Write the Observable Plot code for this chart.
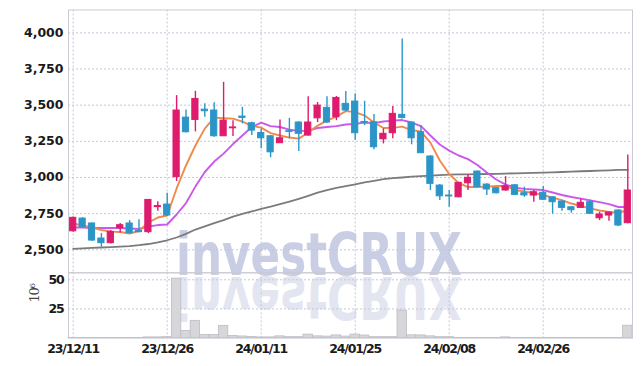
<!DOCTYPE html>
<html><head><meta charset="utf-8">
<script src="https://cdn.jsdelivr.net/npm/d3@7"></script>
<script src="https://cdn.jsdelivr.net/npm/@observablehq/plot@0.6"></script>
<style>
body{margin:0;background:#fff;}
#wrap{position:relative;width:642px;height:366px;overflow:hidden;background:#fff;}
#wrap > svg{position:absolute;left:0;}
</style></head><body><div id="wrap"></div>
<script>
// ---- data ----
const tickIndex = [0, 10, 20, 30, 40, 50];
const tickLabels = ["23/12/11", "23/12/26", "24/01/11", "24/01/25", "24/02/08", "24/02/26"];
const priceTicks = [2500, 2750, 3000, 3250, 3500, 3750, 4000];
const volumeTicks = [25, 50];

const openP  = [2628,2716,2682,2578,2546,2649,2682,2630,2622,2795,2813,3002,3414,3398,3469,3463,3285,3340,3421,3375,
                3308,3285,3237,3320,3380,3290,3409,3481,3416,3509,3525,3384,3382,3264,3306,3433,3380,3313,3145,2944,
                2875,2863,2960,3041,2951,2926,2910,2946,2891,2875,2894,2863,2834,2794,2790,2829,2718,2737,2772,2684];
const closeP = [2721,2656,2564,2546,2624,2670,2615,2622,2845,2802,2737,3463,3313,3543,3458,3285,3393,3346,3412,3324,
                3271,3174,3271,3315,3302,3380,3497,3380,3550,3463,3306,3379,3209,3302,3440,3412,3271,3168,2956,2870,
                2869,2963,2998,2933,2917,2891,2939,2880,2876,2898,2846,2829,2790,2774,2825,2749,2744,2758,2668,2910];
const highP  = [2726,2721,2686,2613,2633,2682,2702,2707,2848,2832,2891,3566,3467,3596,3509,3516,3658,3393,3485,3382,
                3336,3290,3398,3409,3385,3559,3518,3559,3560,3594,3578,3527,3435,3336,3490,3958,3384,3359,3150,2951,
                2910,2966,3020,3045,2956,2930,3006,2950,2933,2910,2937,2866,2836,2799,2852,2845,2760,2762,2776,3156];
const lowP   = [2622,2650,2558,2518,2540,2617,2610,2618,2612,2767,2730,2972,3308,3315,3416,3278,3285,3283,3371,3290,
                3198,3136,3237,3267,3179,3285,3380,3375,3393,3455,3255,3359,3191,3232,3267,3405,3226,3165,2910,2841,
                2794,2860,2910,2930,2875,2885,2905,2876,2863,2829,2842,2747,2767,2753,2786,2745,2702,2698,2661,2680];
const volumeM = [0.1,0.1,0.1,0.1,0.1,0.1,0.1,0.1,0.6,0.6,0.8,51,6.2,14.8,2.6,2.6,10.5,1.8,1.4,0.9,
                 0.6,0.6,1.5,0.8,0.8,3,1.5,1.3,2.3,1.3,3,2.2,0.8,0.8,0.8,23.5,2.4,2.3,1.5,0.8,
                 0.8,0.2,0.2,0.2,0.2,0.2,0.6,0.2,0.2,0.2,0.2,0.2,0.2,0.2,0.2,0.2,0.2,0.2,0.2,10.6];
const ma5  = [2682,2668,2654,2637,2626,2623,2613,2630,2689,2723,2737,2924,3083,3221,3338,3414,3410,3407,3386,3357,
              3345,3307,3290,3276,3269,3311,3359,3393,3421,3459,3452,3428,3380,3342,3343,3352,3328,3317,3241,3117,
              3024,2962,2934,2934,2937,2941,2941,2913,2903,2892,2879,2861,2844,2820,2803,2786,2772,2761,2758,2772];
const ma20 = [2654,2654,2651,2651,2651,2651,2647,2644,2661,2671,2675,2744,2823,2937,3038,3110,3165,3231,3290,3349,
              3380,3355,3349,3331,3321,3324,3342,3349,3355,3366,3371,3380,3376,3387,3393,3397,3380,3355,3290,3228,
              3186,3152,3127,3086,3034,2986,2951,2930,2921,2917,2913,2896,2879,2865,2854,2841,2830,2816,2796,2796];
const ma120 = [2507,2510,2513,2516,2519,2522,2526,2532,2540,2552,2566,2585,2610,2640,2662,2684,2705,2730,2748,2765,
               2783,2798,2815,2833,2852,2873,2895,2912,2928,2940,2952,2966,2977,2988,2995,3000,3006,3010,3013,3017,
               3020,3021,3022,3023,3024,3025,3027,3029,3030,3032,3034,3036,3038,3040,3043,3045,3047,3049,3052,3053];
const watermark = "investCRUX";
const volumeUnit = "10⁶";

// ---- build ----
const n = openP.length;
const candles = d3.range(n).map(i => ({i, o: openP[i], c: closeP[i], h: highP[i], l: lowP[i], v: volumeM[i], up: closeP[i] >= openP[i]}));
const RED = "#de1b6c", BLUE = "#2c95c8";
const col = d => d.up ? RED : BLUE;
const FONT = "'DejaVu Sans',sans-serif";
const GRID = "#c3c7dc";
const FRAME = "#c9cad4";
const xDomain = [-0.5, n - 0.5];
const series = arr => arr.map((v, i) => ({i, v}));

const wrap = document.getElementById("wrap");

// watermark layer (behind); the reflection reuses the same text element
const wm = d3.select(wrap).append("svg").attr("width", 642).attr("height", 366).style("top", "0px");
wm.append("text").attr("id", "wmtext").text(watermark)
  .attr("x", 176).attr("y", 275).attr("textLength", 286).attr("lengthAdjust", "spacingAndGlyphs")
  .attr("font-family", "'DejaVu Sans',sans-serif").attr("font-weight", "bold").attr("font-size", 58)
  .attr("fill", "#c9cee4");
wm.append("use").attr("href", "#wmtext").attr("transform", "translate(0,552) scale(1,-1)").attr("opacity", 0.5);

const axisStyle = {background: "transparent", fontFamily: FONT, fontSize: "12.5px", fontWeight: "bold", color: "#1a1a1a", overflow: "visible"};

const price = Plot.plot({
  width: 642, height: 273, marginLeft: 68, marginRight: 10, marginTop: 9.5, marginBottom: 0.7,
  style: axisStyle,
  x: {domain: xDomain, axis: null},
  y: {domain: [2341, 4158], ticks: priceTicks, tickFormat: d3.format(","), tickSize: 0, tickPadding: 5, label: null},
  marks: [
    Plot.ruleY(priceTicks, {stroke: GRID, strokeDasharray: "2,2"}),
    Plot.ruleX(tickIndex, {stroke: GRID, strokeDasharray: "2,2"}),
    Plot.line(series(ma120), {x: "i", y: "v", stroke: "#7b7b7b", strokeWidth: 1.8}),
    Plot.line(series(ma20), {x: "i", y: "v", stroke: "#cb58ea", strokeWidth: 1.9}),
    Plot.line(series(ma5), {x: "i", y: "v", stroke: "#ef8a4f", strokeWidth: 1.9}),
    Plot.ruleX(candles, {x: "i", y1: "l", y2: "h", stroke: col, strokeWidth: 1.4}),
    Plot.rect(candles, {x1: d => d.i - 0.33, x2: d => d.i + 0.33, y1: "o", y2: "c", fill: col, stroke: col, strokeWidth: 1}),
    Plot.frame({stroke: FRAME})
  ]
});
price.style.top = "0px";
wrap.appendChild(price);

const vol = Plot.plot({
  width: 642, height: 94, marginLeft: 68, marginRight: 10, marginTop: 0.3, marginBottom: 28.4,
  style: {...axisStyle, letterSpacing: "-1.2px"},
  x: {domain: xDomain, ticks: tickIndex, tickFormat: d => tickLabels[tickIndex.indexOf(d)], tickSize: 0, tickPadding: 6, label: null},
  y: {domain: [0, 56], ticks: volumeTicks, tickSize: 0, tickPadding: 5, label: null},
  marks: [
    Plot.ruleY(volumeTicks, {stroke: GRID, strokeDasharray: "2,2"}),
    Plot.ruleX(tickIndex, {stroke: GRID, strokeDasharray: "2,2"}),
    Plot.rect(candles, {x1: d => d.i - 0.5, x2: d => d.i + 0.5, y1: 0, y2: "v", fill: "#d7d7db", stroke: "#bcbcc4", strokeWidth: 0.8}),
    Plot.text([volumeUnit], {frameAnchor: "left", dx: -34, dy: -3, rotate: -90, fontFamily: "'DejaVu Serif',serif", fontWeight: "normal", fontSize: 13, fill: "#444"}),
    Plot.frame({stroke: FRAME})
  ]
});
vol.style.top = "272px";
wrap.appendChild(vol);
</script>
</body></html>
